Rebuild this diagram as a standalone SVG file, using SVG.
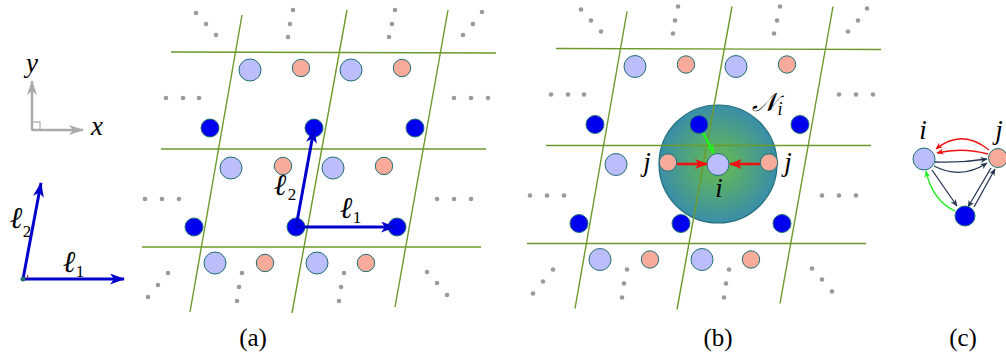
<svg xmlns="http://www.w3.org/2000/svg" width="1006" height="353" viewBox="0 0 1006 353">
<style>
.lat{stroke:#6b9a2a;stroke-width:1.4;fill:none}
.dot{fill:#9a9a9a}
.pu{fill:#bcbdfb;stroke:#1f6f72;stroke-width:1}
.sa{fill:#f9ab9b;stroke:#1f6f72;stroke-width:1}
.bl{fill:#0000f0;stroke:#1f6f72;stroke-width:1}
.nv{stroke:#253552;stroke-width:1.3;fill:none}
</style>
<defs>
<radialGradient id="ng" cx="0.5" cy="0.5" r="0.5">
<stop offset="0" stop-color="#68bd4c"/>
<stop offset="1" stop-color="#3a8ea8"/>
</radialGradient>
<marker id="ab" viewBox="0 0 15 11" refX="14" refY="5.5" markerUnits="userSpaceOnUse" markerWidth="15" markerHeight="11" orient="auto"><path d="M0,0 L15,5.5 L0,11 L4,5.5 z" fill="#0000cc"/></marker>
<marker id="ag" viewBox="0 0 15 10" refX="14" refY="5" markerUnits="userSpaceOnUse" markerWidth="15" markerHeight="10" orient="auto"><path d="M0,0 L15,5 L0,10 L4,5 z" fill="#aaaaaa"/></marker>
<marker id="ar" viewBox="0 0 13 10" refX="12" refY="5" markerUnits="userSpaceOnUse" markerWidth="13" markerHeight="10" orient="auto"><path d="M0,0 L13,5 L0,10 L3.5,5 z" fill="#ee1111"/></marker>
<marker id="agr" viewBox="0 0 10 8" refX="9" refY="4" markerUnits="userSpaceOnUse" markerWidth="10" markerHeight="8" orient="auto"><path d="M0,0 L10,4 L0,8 L3,4 z" fill="#22ee22"/></marker>
<marker id="anv" viewBox="0 0 7 6" refX="6.5" refY="3" markerUnits="userSpaceOnUse" markerWidth="7" markerHeight="6" orient="auto"><path d="M0,0 L7,3 L0,6 L2,3 z" fill="#253552"/></marker>
<marker id="arc" viewBox="0 0 7 6" refX="6.5" refY="3" markerUnits="userSpaceOnUse" markerWidth="7" markerHeight="6" orient="auto"><path d="M0,0 L7,3 L0,6 L2,3 z" fill="#ee1111"/></marker>
<marker id="agc" viewBox="0 0 7 6" refX="6.5" refY="3" markerUnits="userSpaceOnUse" markerWidth="7" markerHeight="6" orient="auto"><path d="M0,0 L7,3 L0,6 L2,3 z" fill="#22ee22"/></marker>
</defs>

<!-- axes legend -->
<g id="axes-xy">
<path d="M32,130 L32,81" stroke="#aaaaaa" stroke-width="2.5" fill="none" marker-end="url(#ag)"/>
<path d="M32,130 L83,130" stroke="#aaaaaa" stroke-width="2.5" fill="none" marker-end="url(#ag)"/>
<rect x="32" y="122" width="8" height="8" fill="none" stroke="#aaaaaa" stroke-width="1.2"/>
<text x="32" y="72" font-family="Liberation Serif, serif" font-style="italic" font-size="27" text-anchor="middle">y</text>
<text x="97" y="135" font-family="Liberation Serif, serif" font-style="italic" font-size="27" text-anchor="middle">x</text>
</g>
<g id="axes-l">
<path d="M23,279 L41,183" stroke="#0000cc" stroke-width="3" fill="none" marker-end="url(#ab)"/>
<path d="M23,279 L124,279" stroke="#0000cc" stroke-width="3" fill="none" marker-end="url(#ab)"/>
<path d="M27,279 A4,4 0 0 0 27.5,275" stroke="#7a2040" stroke-width="1" fill="none"/>
<circle cx="23" cy="279" r="2.5" fill="#1f6f72"/>
<text x="16" y="228" font-family="Liberation Serif, DejaVu Serif, serif" font-style="italic" font-size="30" text-anchor="middle">ℓ</text><text x="27" y="237" font-family="Liberation Serif, serif" font-size="17" text-anchor="middle">2</text>
<text x="69" y="272" font-family="Liberation Serif, DejaVu Serif, serif" font-style="italic" font-size="30" text-anchor="middle">ℓ</text><text x="80" y="277" font-family="Liberation Serif, serif" font-size="17" text-anchor="middle">1</text>
</g>

<!-- panel (a) -->
<g id="panel-a">
<g id="a-lattice">
<path class="lat" d="M171,52 L496,53 M161,149 L486,149 M142,247 L481,247 M242,15 L190,312 M347,10 L292,313 M448,10 L395,307"/>
</g>
<g id="a-dots">
<circle class="dot" cx="196" cy="13" r="2.3"/><circle class="dot" cx="206" cy="24" r="2.3"/><circle class="dot" cx="216" cy="35" r="2.3"/>
<circle class="dot" cx="293" cy="10" r="2.3"/><circle class="dot" cx="290" cy="24" r="2.3"/><circle class="dot" cx="288" cy="37" r="2.3"/>
<circle class="dot" cx="395" cy="10" r="2.3"/><circle class="dot" cx="392" cy="24" r="2.3"/><circle class="dot" cx="389" cy="37" r="2.3"/>
<circle class="dot" cx="482" cy="12" r="2.3"/><circle class="dot" cx="473" cy="24" r="2.3"/><circle class="dot" cx="463" cy="35" r="2.3"/>
<circle class="dot" cx="166" cy="98" r="2.3"/><circle class="dot" cx="183" cy="98" r="2.3"/><circle class="dot" cx="199" cy="98" r="2.3"/>
<circle class="dot" cx="454" cy="98" r="2.3"/><circle class="dot" cx="471" cy="98" r="2.3"/><circle class="dot" cx="488" cy="98" r="2.3"/>
<circle class="dot" cx="145" cy="199" r="2.3"/><circle class="dot" cx="162" cy="199" r="2.3"/><circle class="dot" cx="179" cy="199" r="2.3"/>
<circle class="dot" cx="437" cy="199" r="2.3"/><circle class="dot" cx="454" cy="199" r="2.3"/><circle class="dot" cx="471" cy="199" r="2.3"/>
<circle class="dot" cx="168" cy="273" r="2.3"/><circle class="dot" cx="158" cy="285" r="2.3"/><circle class="dot" cx="148" cy="297" r="2.3"/>
<circle class="dot" cx="242" cy="273" r="2.3"/><circle class="dot" cx="239" cy="287" r="2.3"/><circle class="dot" cx="237" cy="301" r="2.3"/>
<circle class="dot" cx="344" cy="273" r="2.3"/><circle class="dot" cx="341" cy="287" r="2.3"/><circle class="dot" cx="339" cy="301" r="2.3"/>
<circle class="dot" cx="427" cy="272" r="2.3"/><circle class="dot" cx="437" cy="283" r="2.3"/><circle class="dot" cx="447" cy="295" r="2.3"/>
</g>
<g id="a-atoms">
<circle class="pu" cx="250" cy="70" r="11"/><circle class="sa" cx="301" cy="68" r="8.7"/><circle class="pu" cx="351" cy="70" r="11"/><circle class="sa" cx="402" cy="68" r="8.7"/>
<circle class="bl" cx="210" cy="128" r="9"/><circle class="bl" cx="314" cy="128" r="9"/><circle class="bl" cx="415" cy="128" r="9"/>
<circle class="pu" cx="231" cy="168" r="11"/><circle class="sa" cx="283" cy="166" r="8.7"/><circle class="pu" cx="333" cy="168" r="11"/><circle class="sa" cx="384" cy="166" r="8.7"/>
<circle class="bl" cx="194" cy="227" r="9"/><circle class="bl" cx="296" cy="227" r="9"/><circle class="bl" cx="397" cy="227" r="9"/>
<circle class="pu" cx="215" cy="263" r="11"/><circle class="sa" cx="265" cy="263" r="8.7"/><circle class="pu" cx="317" cy="263" r="11"/><circle class="sa" cx="366" cy="263" r="8.7"/>
</g>
<g id="a-vectors">
<path d="M296,227 L314,129" stroke="#0000cc" stroke-width="3" fill="none" marker-end="url(#ab)"/>
<path d="M296,227 L395,227" stroke="#0000cc" stroke-width="3" fill="none" marker-end="url(#ab)"/>
<text x="280" y="195" font-family="Liberation Serif, DejaVu Serif, serif" font-style="italic" font-size="30" text-anchor="middle">ℓ</text><text x="292" y="200" font-family="Liberation Serif, serif" font-size="17" text-anchor="middle">2</text>
<text x="346" y="218" font-family="Liberation Serif, DejaVu Serif, serif" font-style="italic" font-size="30" text-anchor="middle">ℓ</text><text x="357" y="223" font-family="Liberation Serif, serif" font-size="17" text-anchor="middle">1</text>
</g>
<text x="253" y="346" font-family="Liberation Serif, serif" font-size="25" text-anchor="middle">(a)</text>
</g>

<!-- panel (b) -->
<g id="panel-b">
<g id="b-neighborhood">
<circle cx="718" cy="164" r="59" fill="url(#ng)" stroke="#1f6e7a" stroke-width="1.2"/>
</g>
<g transform="translate(385,-3.5)">
<g id="b-lattice">
<path class="lat" d="M171,52 L496,53 M161,149 L486,149 M142,247 L481,247 M242,15 L190,312 M347,10 L292,313 M448,10 L395,307"/>
</g>
<g id="b-dots">
<circle class="dot" cx="196" cy="13" r="2.3"/><circle class="dot" cx="206" cy="24" r="2.3"/><circle class="dot" cx="216" cy="35" r="2.3"/>
<circle class="dot" cx="293" cy="10" r="2.3"/><circle class="dot" cx="290" cy="24" r="2.3"/><circle class="dot" cx="288" cy="37" r="2.3"/>
<circle class="dot" cx="395" cy="10" r="2.3"/><circle class="dot" cx="392" cy="24" r="2.3"/><circle class="dot" cx="389" cy="37" r="2.3"/>
<circle class="dot" cx="482" cy="12" r="2.3"/><circle class="dot" cx="473" cy="24" r="2.3"/><circle class="dot" cx="463" cy="35" r="2.3"/>
<circle class="dot" cx="166" cy="98" r="2.3"/><circle class="dot" cx="183" cy="98" r="2.3"/><circle class="dot" cx="199" cy="98" r="2.3"/>
<circle class="dot" cx="454" cy="98" r="2.3"/><circle class="dot" cx="471" cy="98" r="2.3"/><circle class="dot" cx="488" cy="98" r="2.3"/>
<circle class="dot" cx="145" cy="199" r="2.3"/><circle class="dot" cx="162" cy="199" r="2.3"/><circle class="dot" cx="179" cy="199" r="2.3"/>
<circle class="dot" cx="437" cy="199" r="2.3"/><circle class="dot" cx="454" cy="199" r="2.3"/><circle class="dot" cx="471" cy="199" r="2.3"/>
<circle class="dot" cx="168" cy="273" r="2.3"/><circle class="dot" cx="158" cy="285" r="2.3"/><circle class="dot" cx="148" cy="297" r="2.3"/>
<circle class="dot" cx="242" cy="273" r="2.3"/><circle class="dot" cx="239" cy="287" r="2.3"/><circle class="dot" cx="237" cy="301" r="2.3"/>
<circle class="dot" cx="344" cy="273" r="2.3"/><circle class="dot" cx="341" cy="287" r="2.3"/><circle class="dot" cx="339" cy="301" r="2.3"/>
<circle class="dot" cx="427" cy="272" r="2.3"/><circle class="dot" cx="437" cy="283" r="2.3"/><circle class="dot" cx="447" cy="295" r="2.3"/>
</g>
<g id="b-atoms">
<circle class="pu" cx="250" cy="70" r="11"/><circle class="sa" cx="301" cy="68" r="8.7"/><circle class="pu" cx="351" cy="70" r="11"/><circle class="sa" cx="402" cy="68" r="8.7"/>
<circle class="bl" cx="210" cy="128" r="9"/><circle class="bl" cx="314" cy="128" r="9"/><circle class="bl" cx="415" cy="128" r="9"/>
<circle class="pu" cx="231" cy="168" r="11"/><circle class="sa" cx="283" cy="166" r="8.7"/><circle class="pu" cx="333" cy="168" r="11"/><circle class="sa" cx="384" cy="166" r="8.7"/>
<circle class="bl" cx="194" cy="227" r="9"/><circle class="bl" cx="296" cy="227" r="9"/><circle class="bl" cx="397" cy="227" r="9"/>
<circle class="pu" cx="215" cy="263" r="11"/><circle class="sa" cx="265" cy="263" r="8.7"/><circle class="pu" cx="317" cy="263" r="11"/><circle class="sa" cx="366" cy="263" r="8.7"/>
</g>
</g>
<g id="b-connectors">
<path d="M677,164 L707,164" stroke="#ee1111" stroke-width="2.6" fill="none" marker-end="url(#ar)"/>
<path d="M760,164 L730,164" stroke="#ee1111" stroke-width="2.6" fill="none" marker-end="url(#ar)"/>
<path d="M703,133 L714,153" stroke="#22ee22" stroke-width="2.6" fill="none" marker-end="url(#agr)"/>
</g>
<g id="b-labels">
<text x="647" y="171" font-family="Liberation Serif, serif" font-style="italic" font-size="27" text-anchor="middle">j</text>
<text x="788" y="171" font-family="Liberation Serif, serif" font-style="italic" font-size="27" text-anchor="middle">j</text>
<text x="719" y="197" font-family="Liberation Serif, serif" font-style="italic" font-size="27" text-anchor="middle">i</text>
<text x="764" y="111" font-family="DejaVu Serif, Liberation Serif, serif" font-style="italic" font-size="26" text-anchor="middle">𝒩</text><text x="780" y="115" font-family="Liberation Serif, serif" font-style="italic" font-size="18" text-anchor="middle">i</text>
</g>
<text x="718" y="346" font-family="Liberation Serif, serif" font-size="25" text-anchor="middle">(b)</text>
</g>

<!-- panel (c) -->
<g id="panel-c">
<g id="c-connectors">
<path d="M989,150 Q962,128 936,149" stroke="#ee1111" stroke-width="1.3" fill="none" marker-end="url(#arc)"/>
<path d="M988,154 Q962,147 937,153" stroke="#ee1111" stroke-width="1.3" fill="none" marker-end="url(#arc)"/>
<path d="M935,162 Q961,163 987,159" class="nv" marker-end="url(#anv)"/>
<path d="M934,166 Q961,180 987,163" class="nv" marker-end="url(#anv)"/>
<path d="M932,170 L957,206" class="nv" marker-end="url(#anv)"/>
<path d="M991,168 L968,207" class="nv" marker-end="url(#anv)"/>
<path d="M974,207 L995,169" class="nv" marker-end="url(#anv)"/>
<path d="M955,211 Q932,200 926,171" stroke="#22ee22" stroke-width="1.3" fill="none" marker-end="url(#agc)"/>
</g>
<g id="c-node-i"><circle class="pu" cx="924" cy="159" r="11"/><text x="923" y="139" font-family="Liberation Serif, serif" font-style="italic" font-size="27" text-anchor="middle">i</text></g>
<g id="c-node-j"><circle class="sa" cx="998" cy="158" r="9.5"/><text x="999" y="139" font-family="Liberation Serif, serif" font-style="italic" font-size="27" text-anchor="middle">j</text></g>
<g id="c-node-k"><circle class="bl" cx="965" cy="216" r="10"/></g>
<text x="963" y="346" font-family="Liberation Serif, serif" font-size="25" text-anchor="middle">(c)</text>
</g>
</svg>
